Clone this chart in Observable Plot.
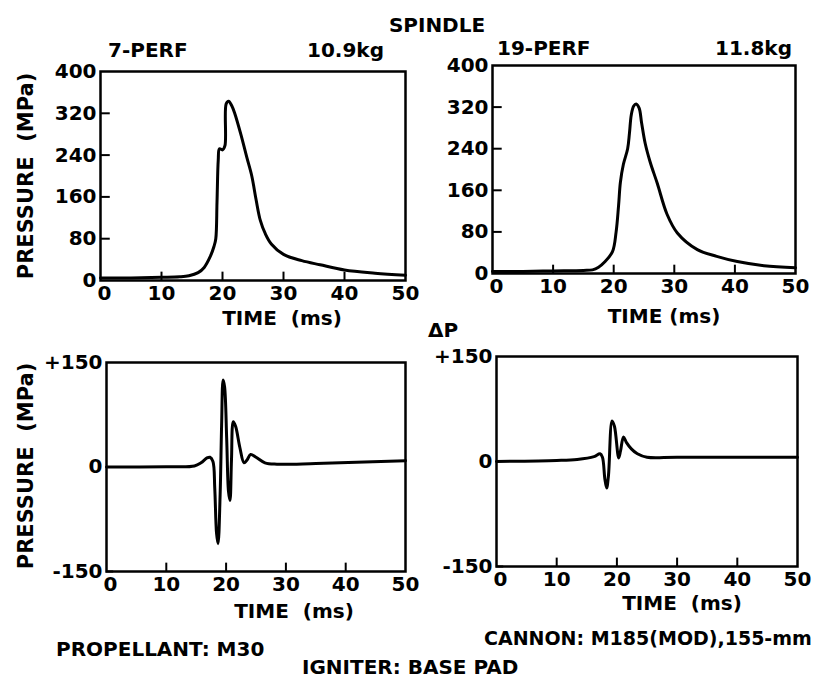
<!DOCTYPE html>
<html>
<head>
<meta charset="utf-8">
<script src="https://cdn.jsdelivr.net/npm/d3@7"></script>
<script src="https://cdn.jsdelivr.net/npm/@observablehq/plot@0.6"></script>
<style>
  html, body { margin: 0; padding: 0; background: #fff; }
  #wrap { position: relative; width: 829px; height: 683px; overflow: hidden; background: #fff;
          font-family: "DejaVu Sans", sans-serif; color: #000; font-weight: bold; }
  .panel { position: absolute; }
  .panel svg { background: transparent !important; overflow: visible; }
  .t { position: absolute; white-space: pre; line-height: 1; font-size: 20px; }
  .c { transform: translate(-50%, -50%); }
  .l { transform: translate(0, -50%); }
  .r { transform: translate(-50%, -50%) rotate(-90deg); }
</style>
</head>
<body>
<div id="wrap"></div>
<script>
// ---- data ----
const xTicks = [0, 10, 20, 30, 40, 50];
const xInnerTicks = [10, 20, 30, 40];
const yTicksTop = [0, 80, 160, 240, 320, 400];
const yInnerTicksTop = [80, 160, 240, 320];
const yTicksBottom = [-150, 0, 150];
const yTickLabelsBottom = ["-150", "0", "+150"];

// Spindle 7-perf, 10.9 kg : pressure (MPa) vs time (ms)
const t7 = [0, 5, 10, 13, 14.5, 16, 17, 18, 18.6, 18.9, 19.1, 19.3, 19.5, 20.0, 20.4, 20.6, 21.0, 21.5, 22, 23, 24, 24.8, 25.5, 26.2, 27, 28, 30, 33, 36, 40, 45, 50];
const p7 = [5, 5, 6, 7, 9, 15, 25, 46, 65, 80, 150, 230, 252, 250, 258, 338, 343, 335, 320, 280, 235, 200, 155, 115, 90, 70, 50, 38, 30, 20, 14, 10];

// Spindle 19-perf, 11.8 kg
const t19 = [0, 5, 10, 15, 16.5, 17.5, 18.5, 19.8, 20.4, 20.8, 21.1, 21.6, 22.3, 22.6, 22.9, 23.3, 23.7, 24.2, 24.6, 25.2, 26, 27.2, 28.8, 30.5, 33.8, 37, 40.4, 44.8, 50];
const p19 = [4, 4, 5, 6, 7, 12, 22, 42, 80, 130, 175, 210, 240, 270, 305, 322, 326, 318, 290, 250, 215, 173, 114, 78, 46, 33, 23, 15, 11];

// Delta P, 7-perf
const tD7 = [0, 10, 14.7, 15.8, 16.8, 17.3, 17.8, 18.1, 18.4, 18.65, 19.0, 19.25, 19.5, 19.75, 20.1, 20.4, 20.65, 20.9, 21.2, 21.6, 22.3, 23.0, 23.5, 24.1, 25.0, 26.5, 28.5, 35, 50];
const dp7 = [0, 0.5, 1.5, 6, 13, 14, 8, -30, -95, -110, -40, 60, 125, 115, 40, -35, -48, 10, 65, 58, 28, 6, 10, 18, 14, 6, 4, 5, 9];

// Delta P, 19-perf
const tD19 = [0, 10, 13.4, 16.2, 17.2, 17.6, 18.0, 18.3, 18.6, 19.2, 19.6, 20.3, 20.6, 21.1, 21.6, 22.4, 23.4, 25, 30, 50];
const dp19 = [0, 1.5, 3, 7, 11, 6, -25, -38, -20, 58, 50, 5, 15, 35, 27, 18, 11, 6, 6, 6];

// ---- drawing ----
const FONT = "DejaVu Sans, sans-serif";
const wrap = document.getElementById("wrap");

function panel({left, top, width, height, mL, mR, mT, mB, yDomain, yTicks, yFormat, yInner, xTickLen, yTickLen, t, v}) {
  const pts = t.map((d, i) => ({t: d, v: v[i]}));
  const chart = Plot.plot({
    width, height,
    marginLeft: mL, marginRight: mR, marginTop: mT, marginBottom: mB,
    style: {fontFamily: FONT, fontSize: "20px", fontWeight: "bold", background: "transparent", color: "#000"},
    x: {domain: [0, 50]},
    y: {domain: yDomain},
    marks: [
      Plot.axisX(xTicks.slice(1), {tickSize: 0, tickPadding: 5, label: null, tickFormat: d => String(d)}),
      Plot.axisX(xTicks.slice(0, 1), {tickSize: 0, tickPadding: 5, dx: 4, label: null, tickFormat: d => String(d)}),
      Plot.axisY(yTicks, {tickSize: 0, tickPadding: 4, label: null, tickFormat: yFormat}),
      Plot.ruleX(xInnerTicks, {x: d => d, y1: yDomain[0], y2: yDomain[0] + xTickLen, strokeWidth: 2}),
      Plot.ruleY(yInner, {y: d => d, x1: 0, x2: yTickLen, strokeWidth: 2}),
      Plot.line(pts, {x: "t", y: "v", curve: "catmull-rom", strokeWidth: 3, stroke: "#000", strokeLinejoin: "round"}),
      Plot.frame({strokeWidth: 2.5, stroke: "#000"})
    ]
  });
  const div = document.createElement("div");
  div.className = "panel";
  div.style.left = left + "px";
  div.style.top = top + "px";
  div.appendChild(chart);
  wrap.appendChild(div);
}

// top-left: frame x 100..405, y 71..280
panel({left: 0, top: 0, width: 415, height: 312, mL: 100, mR: 10, mT: 71, mB: 32,
  yDomain: [0, 400], yTicks: yTicksTop, yFormat: d => String(d), yInner: yInnerTicksTop,
  xTickLen: 16, yTickLen: 1.6, t: t7, v: p7});
// top-right: frame x 492..795, y 65..273
panel({left: 415, top: 0, width: 390, height: 305, mL: 77, mR: 10, mT: 65, mB: 32,
  yDomain: [0, 400], yTicks: yTicksTop, yFormat: d => String(d), yInner: yInnerTicksTop,
  xTickLen: 16, yTickLen: 1.6, t: t19, v: p19});
// bottom-left: frame x 106..405, y 362..571
panel({left: 0, top: 330, width: 415, height: 273, mL: 106, mR: 10, mT: 32, mB: 32,
  yDomain: [-150, 150], yTicks: yTicksBottom, yFormat: d => yTickLabelsBottom[yTicksBottom.indexOf(d)], yInner: [-150],
  xTickLen: 12, yTickLen: 1.2, t: tD7, v: dp7});
// bottom-right: frame x 496..797, y 356..566
panel({left: 415, top: 330, width: 392, height: 268, mL: 81, mR: 10, mT: 26, mB: 32,
  yDomain: [-150, 150], yTicks: yTicksBottom, yFormat: d => yTickLabelsBottom[yTicksBottom.indexOf(d)], yInner: [-150],
  xTickLen: 12, yTickLen: 1.2, t: tD19, v: dp19});

// ---- text ----
const texts = [
  {s: "SPINDLE", x: 437, y: 25, cls: "c"},
  {s: "7-PERF", x: 108, y: 50, cls: "l"},
  {s: "10.9kg", x: 307, y: 50, cls: "l"},
  {s: "19-PERF", x: 497, y: 48, cls: "l"},
  {s: "11.8kg", x: 715, y: 48, cls: "l"},
  {s: "PRESSURE  (MPa)", x: 26, y: 176, cls: "r", size: 21},
  {s: "TIME  (ms)", x: 282, y: 318, cls: "c"},
  {s: "TIME (ms)", x: 664, y: 316, cls: "c"},
  {s: "ΔP", x: 443, y: 330, cls: "c"},
  {s: "PRESSURE  (MPa)", x: 26, y: 466, cls: "r", size: 21},
  {s: "TIME  (ms)", x: 294, y: 611, cls: "c"},
  {s: "TIME  (ms)", x: 682, y: 603, cls: "c"},
  {s: "PROPELLANT: M30", x: 56, y: 649, cls: "l"},
  {s: "CANNON: M185(MOD),155-mm", x: 484, y: 638, cls: "l", size: 19},
  {s: "IGNITER: BASE PAD", x: 302, y: 667, cls: "l"}
];
for (const d of texts) {
  const el = document.createElement("div");
  el.className = "t " + d.cls;
  el.textContent = d.s;
  el.style.left = d.x + "px";
  el.style.top = d.y + "px";
  if (d.size) el.style.fontSize = d.size + "px";
  wrap.appendChild(el);
}
</script>
</body>
</html>
